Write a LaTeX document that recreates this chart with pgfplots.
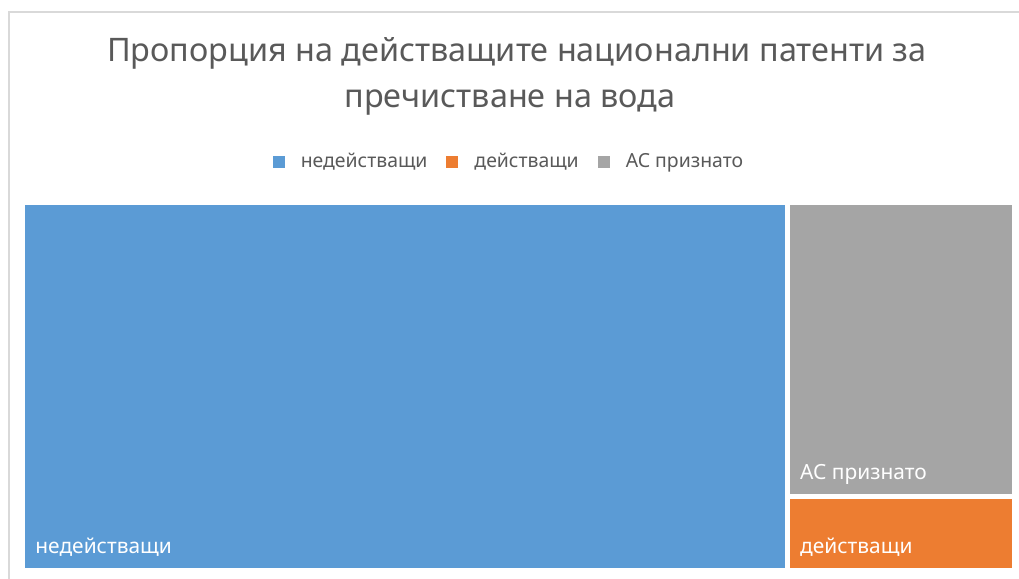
\documentclass[border=0pt]{standalone}
\usepackage{fontspec}
\setmainfont{Noto Sans}
\usepackage{pgfplots}
\pgfplotsset{compat=1.18}
\definecolor{cblue}{HTML}{5B9BD5}
\definecolor{corange}{HTML}{ED7D31}
\definecolor{cgray}{HTML}{A5A5A5}
\definecolor{ctext}{HTML}{595959}
\definecolor{cborder}{HTML}{D9D9D9}
\begin{document}
\begin{tikzpicture}
\useasboundingbox (0,0) rectangle (509.5pt,289.5pt);
\draw[cborder, line width=1pt] (4.5pt,-10pt) -- (4.5pt,283.5pt) -- (530pt,283.5pt);
\node[anchor=base, inner sep=0pt, text=ctext, font=\fontsize{16.2}{20}\selectfont] at (258.5pt,258.5pt) {Пропорция на действащите национални патенти за};
\node[anchor=base, inner sep=0pt, text=ctext, font=\fontsize{16.2}{20}\selectfont] at (255pt,235.5pt) {пречистване на вода};
\begin{axis}[
  at={(11.25pt,4.25pt)}, anchor=south west,
  scale only axis, width=496pt, height=184pt,
  xmin=0, xmax=65.5, ymin=0, ymax=1,
  hide axis, clip=false,
  legend columns=3,
  legend image code/.code={\path[#1,draw=none] (0pt,-3pt) rectangle (6pt,3pt);},
  legend style={draw=none, fill=none, at={(0.4914,1.11)}, anchor=center,
    font=\fontsize{9.7}{12}\selectfont, text=ctext,
    /tikz/every odd column/.append style={column sep=6pt},
    /tikz/every even column/.append style={column sep=7.5pt}},
]
\addplot[fill=cblue, draw=white, line width=2.5pt] coordinates {(0,0) (50.5,0) (50.5,1) (0,1)} -- cycle;
\addlegendentry{недействащи}
\addplot[fill=corange, draw=white, line width=2.5pt] coordinates {(50.5,0) (65.5,0) (65.5,0.2) (50.5,0.2)} -- cycle;
\addlegendentry{действащи}
\addplot[fill=cgray, draw=white, line width=2.5pt] coordinates {(50.5,0.2) (65.5,0.2) (65.5,1) (50.5,1)} -- cycle;
\addlegendentry{АС признато}
\node[anchor=base west, inner sep=0pt, text=white, font=\fontsize{10.45}{13}\selectfont] at ([shift={(6.25pt,8.75pt)}]axis cs:0,0) {недействащи};
\node[anchor=base west, inner sep=0pt, text=white, font=\fontsize{10.45}{13}\selectfont] at ([shift={(6.25pt,8.75pt)}]axis cs:50.5,0) {действащи};
\node[anchor=base west, inner sep=0pt, text=white, font=\fontsize{10.45}{13}\selectfont] at ([shift={(6.25pt,8.75pt)}]axis cs:50.5,0.2) {АС признато};
\end{axis}
\end{tikzpicture}
\end{document}
